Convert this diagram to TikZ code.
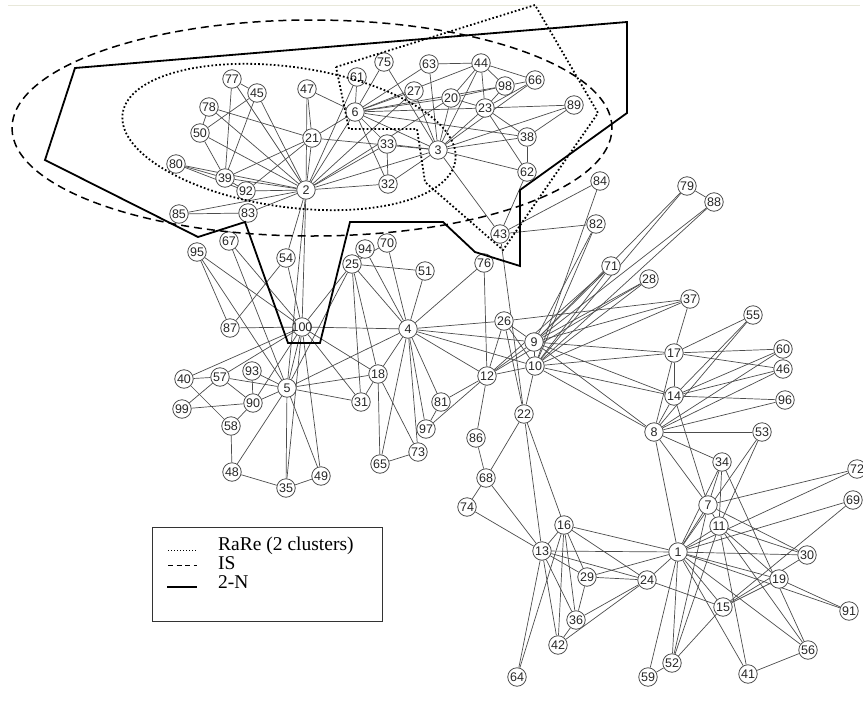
\documentclass[tikz,border=0pt]{standalone}
\usepackage{fontspec}
\setmainfont{Liberation Serif}
\newfontfamily\vtxfont{Liberation Sans}
\usetikzlibrary{backgrounds}
\definecolor{framegray}{RGB}{232,232,218}
\tikzset{
  vtx/.style={circle, draw=black!70, fill=white, line width=0.8pt, minimum size=18.5pt,
    inner sep=0pt, font=\vtxfont\fontsize{12.5}{12.5}\selectfont, text=black!85},
  link/.style={draw=black!70, line width=0.7pt},
  rare/.style={line width=1.8pt, dash pattern=on 1.7pt off 2.2pt},
  isline/.style={line width=1.5pt, dash pattern=on 8pt off 5pt},
  twon/.style={line width=1.8pt, line join=miter},
  legendtext/.style={anchor=base west, inner sep=0pt, font=\fontsize{19.5}{19.5}\selectfont}
}
\begin{document}
\begin{tikzpicture}[x=1pt, y=-1pt]
\useasboundingbox (0,0) rectangle (863,702);
\draw[framegray, line width=1pt] (8,5) -- (860,5);

% vertices (pixel positions)
\foreach \n/\x/\y in {1/678/552, 2/306/190, 3/438/150, 4/408/329, 5/287/388,
  6/355/112, 7/708/505, 8/654/432, 9/534/342, 10/535/366, 11/719/526,
  12/487/376, 13/542/551, 14/674/396, 15/723/607, 16/564/525, 17/674/353,
  18/378/374, 19/779/579, 20/451/98, 21/312/138, 22/524/414, 23/485/108,
  24/647/580, 25/352/264, 26/504/321, 27/414/91, 28/649/279, 29/587/577,
  30/807/555, 31/361/402, 32/388/184, 33/387/144, 34/722/462, 35/286/488,
  36/576/620, 37/690/299, 38/527/137, 39/225/178, 40/184/379, 41/748/674,
  42/558/645, 43/500/234, 44/481/63, 45/257/93, 46/783/369, 47/307/89,
  48/232/472, 49/321/476, 50/200/133, 51/425/271, 52/672/663, 53/762/432,
  54/286/258, 55/753/315, 56/808/650, 57/220/377, 58/231/426, 59/648/677,
  60/783/349, 61/357/77, 62/527/172, 63/429/64, 64/517/677, 65/380/464,
  66/535/80, 67/229/241, 68/486/478, 69/853/500, 70/387/243, 71/611/266,
  72/857/469, 73/418/452, 74/467/507, 75/384/62, 76/484/263, 77/232/79,
  78/209/107, 79/687/186, 80/176/164, 81/441/402, 82/596/224, 83/248/213,
  84/600/181, 85/179/214, 86/476/438, 87/230/328, 88/714/202, 89/574/105,
  90/253/403, 91/849/611, 92/246/191, 93/252/371, 94/365/249, 95/197/252,
  96/785/400, 97/426/429, 98/505/86, 99/182/409, 100/302/327}
  \node[vtx] (v\n) at (\x,\y) {\makebox[0pt]{\n}};

\begin{pgfonlayer}{background}
% first cluster
\foreach \a/\b in {77/39, 77/45, 77/2, 45/39, 45/50, 45/2, 78/50, 78/21, 78/2,
  50/39, 50/2, 80/39, 80/2, 80/92, 39/2, 39/21, 39/92, 92/21, 92/2, 85/2,
  85/83, 83/2, 47/21, 47/6, 47/2, 21/2, 21/3, 21/6, 2/6, 2/61, 2/3, 2/32,
  2/33, 2/27, 2/20}
  \draw[link] (v\a) -- (v\b);
% second cluster
\foreach \a/\b in {75/6, 75/3, 61/6, 63/44, 63/3, 63/6, 44/6, 44/20, 44/23,
  44/98, 44/66, 44/3, 27/6, 27/3, 20/6, 20/98, 20/3, 20/23, 98/66, 98/23,
  98/6, 66/23, 66/3, 23/6, 23/89, 23/38, 23/62, 23/3, 89/3, 89/38, 38/3,
  38/6, 38/62, 62/3, 62/43, 33/6, 33/3, 33/32, 32/6, 32/3, 3/43, 6/3}
  \draw[link] (v\a) -- (v\b);
% middle
\foreach \a/\b in {43/84, 43/82, 43/22, 84/10, 82/10, 82/9, 76/12, 76/4,
  79/88, 79/9, 79/10, 88/10, 88/9, 71/10, 71/9, 71/12, 28/10, 28/9, 28/12,
  37/26, 37/10, 37/9, 37/17, 26/12, 26/4, 26/22, 26/9, 26/10, 9/10, 9/4,
  9/17, 9/14, 9/8, 9/12, 10/4, 10/17, 10/14, 10/22, 10/12, 10/8, 12/4,
  12/81, 12/97, 12/86, 17/60, 17/46, 17/55, 17/14, 17/8, 14/55, 14/60,
  14/46, 14/96, 14/8, 14/7, 8/60, 8/46, 8/96, 8/55, 8/53, 8/34, 8/7, 8/1,
  22/13, 22/16, 22/68}
  \draw[link] (v\a) -- (v\b);
% left
\foreach \a/\b in {95/100, 95/87, 95/5, 67/5, 67/100, 54/100, 54/87, 54/2,
  87/100, 25/100, 25/5, 25/4, 25/31, 25/18, 25/51, 94/4, 94/25, 70/4, 70/25,
  51/4, 100/4, 100/2, 100/18, 100/31, 100/40, 100/57, 100/90, 100/5,
  100/49, 100/35, 4/5, 4/18, 4/65, 4/73, 4/97, 4/81, 40/57, 40/58, 57/5,
  57/99, 57/90, 93/90, 93/5, 90/5, 90/58, 90/99, 58/48, 5/18, 5/31, 5/48,
  5/35, 5/49, 5/2, 18/65, 18/73, 18/31, 48/35, 35/49, 65/73, 97/81}
  \draw[link] (v\a) -- (v\b);
% lower right
\foreach \a/\b in {53/11, 53/1, 34/7, 34/11, 34/1, 34/56, 7/72, 7/1, 7/11,
  7/30, 7/52, 11/1, 11/30, 11/19, 11/41, 11/56, 11/52, 72/1, 69/1, 69/15,
  1/30, 1/19, 1/91, 1/15, 1/56, 1/41, 1/52, 1/59, 1/24, 1/13, 1/16, 1/29,
  19/91, 19/15, 30/15, 24/15, 24/13, 24/16, 24/36, 24/42, 24/29, 15/52,
  56/41, 52/59, 13/16, 13/29, 13/36, 13/42, 13/64, 13/68, 13/74, 16/36,
  16/42, 16/29, 16/64, 29/36, 36/42, 68/86, 68/74}
  \draw[link] (v\a) -- (v\b);
\end{pgfonlayer}

% RaRe, IS and 2-N outlines
\draw[rare, rotate around={-8:(289,137)}] (289,137) ellipse (168pt and 70pt);
\draw[rare] (336,67) -- (535,5) -- (598,113) -- (503,250) -- (425,182)
  -- (417,129) -- (349,129) -- cycle;
\draw[isline] (312,128) ellipse (300pt and 108pt);
\draw[twon] (75,68) -- (627,22) -- (627,113) -- (520,190) -- (520,266)
  -- (475,252) -- (443,222) -- (350,222) -- (320,343) -- (288,343)
  -- (245,222) -- (198,237) -- (45,160) -- cycle;

% legend
\node[draw=black!80, line width=0.8pt, minimum width=230pt, minimum height=94pt,
  inner sep=0pt] (legend) at (267,574) {};
\draw[rare, line width=1pt, dash pattern=on 1pt off 2pt] (168,550) -- (197,550);
\draw[isline, line width=1pt, dash pattern=on 5pt off 3.5pt] (168,565) -- (197,565);
\draw[line width=1.3pt] (167,587) -- (197,587);
\node[legendtext] (rarelbl) at (218,550) {RaRe (2 clusters)};
\node[legendtext] (islbl) at (218,569) {IS};
\node[legendtext] (twonlbl) at (218,588) {2-N};
\end{tikzpicture}
\end{document}
